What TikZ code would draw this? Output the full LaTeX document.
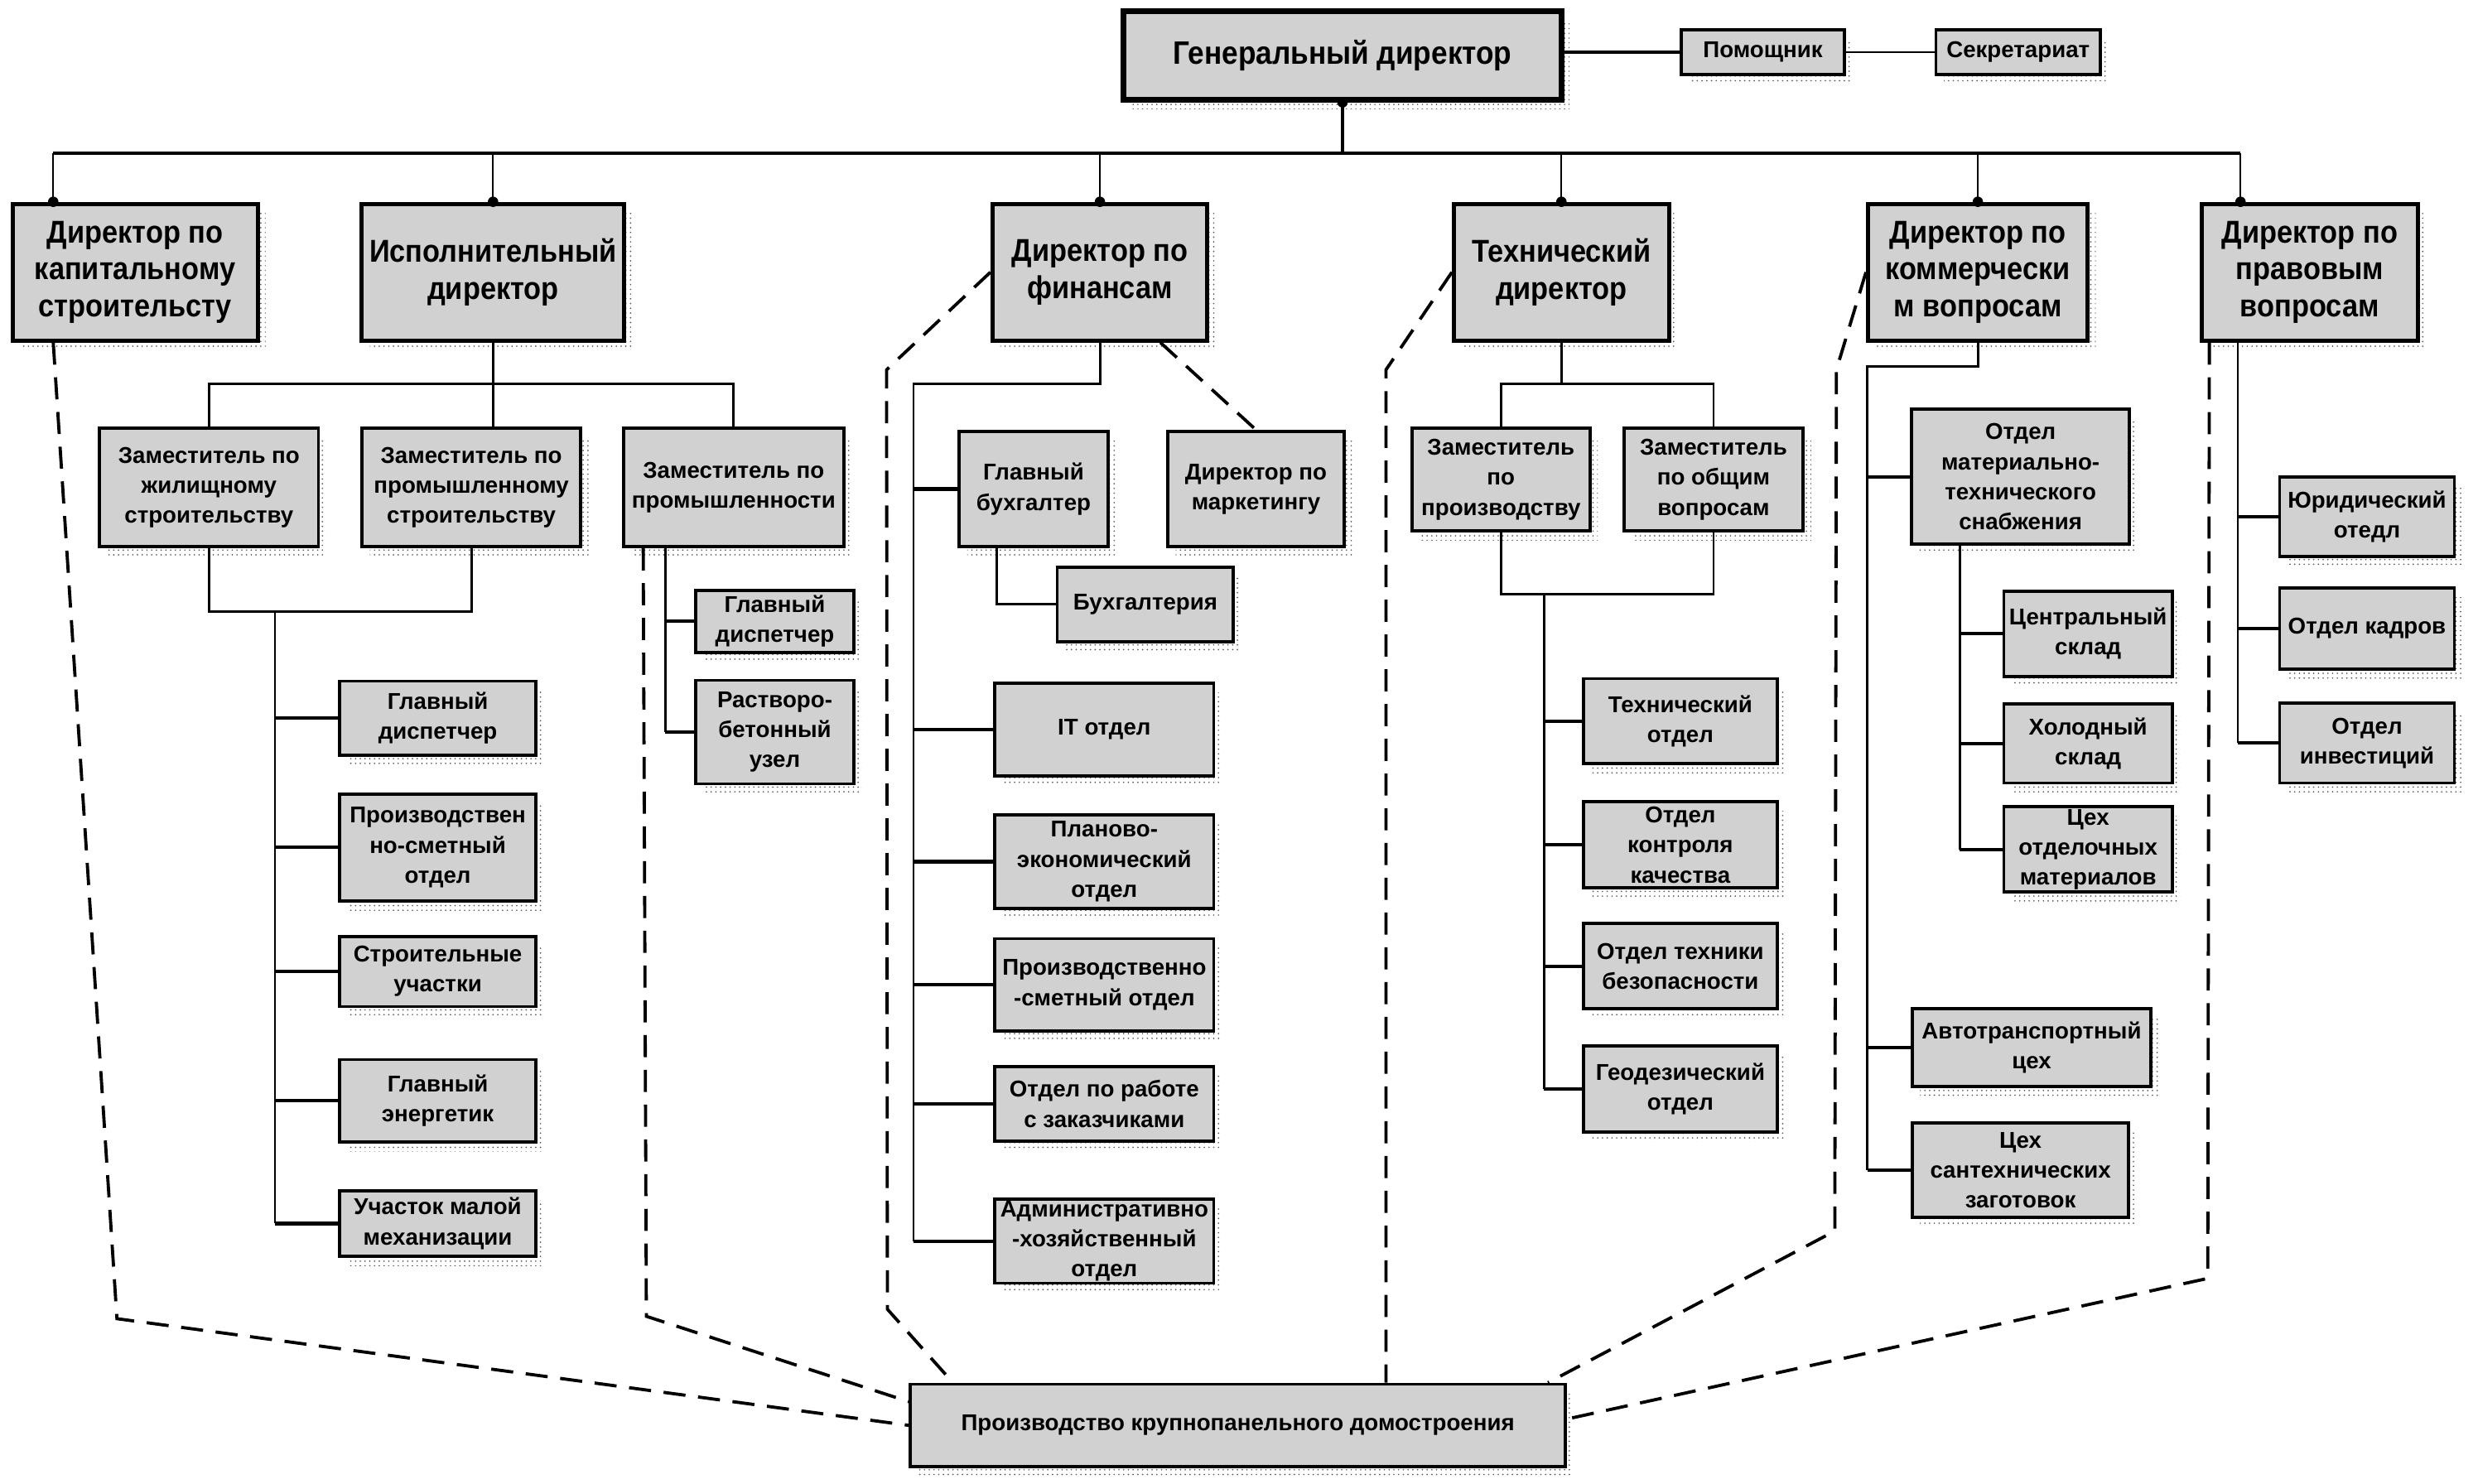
\documentclass[tikz,border=0pt]{standalone}
\usepackage{fontspec}
\setmainfont{Liberation Sans}
\newfontfamily\narrowf[FakeStretch=0.9]{Liberation Sans}
\usetikzlibrary{shadows,patterns,calc}
\tikzset{
  base/.style={draw=black, fill=black!18, align=center, inner sep=1pt, text=black,
    general shadow={shadow xshift=5pt, shadow yshift=-6pt, pattern=dots, pattern color=black!65}},
  gdbox/.style={base, line width=3.6pt, font=\narrowf\bfseries\fontsize{20.5}{24}\selectfont},
  dirbox/.style={base, line width=2.6pt, font=\narrowf\bfseries\fontsize{20}{23.5}\selectfont},
  smallbox/.style={base, line width=2pt, font=\bfseries\fontsize{14.5}{19}\selectfont},
  conn/.style={line width=1.5pt},
  stub/.style={line width=2.2pt},
  busline/.style={line width=2pt},
  dropline/.style={line width=1pt},
  dashline/.style={line width=2pt, dash pattern=on 14pt off 8pt},
}
\newcommand\bx[7]{\node[#1, minimum width={#5-#3}, minimum height={#6-#4}] (#2) at ({(#3+#5)/2},{(#4+#6)/2}) {#7};}
\begin{document}
\begin{tikzpicture}[x=1pt,y=-1pt]
\useasboundingbox[fill=white] (0,0) rectangle (1568,939.1);

% ---- boxes
\bx{gdbox}{gd}{711}{7}{988}{63}{Генеральный директор}
\bx{smallbox}{pom}{1064}{19}{1167}{47}{Помощник}
\bx{smallbox}{sek}{1225}{19}{1329}{47}{Секретариат}

\bx{dirbox}{kap}{8}{129}{163}{215.5}{Директор по\\капитальному\\строительсту}
\bx{dirbox}{isp}{229}{129}{395}{215.5}{Исполнительный\\директор}
\bx{dirbox}{fin}{628}{129}{764}{215.5}{Директор по\\финансам}
\bx{dirbox}{tech}{920}{129}{1056}{215.5}{Технический\\директор}
\bx{dirbox}{kom}{1182}{129}{1321}{215.5}{Директор по\\коммерчески\\м вопросам}
\bx{dirbox}{prav}{1393}{129}{1530}{215.5}{Директор по\\правовым\\вопросам}

\bx{smallbox}{zj}{63}{271}{201.5}{346}{Заместитель по\\жилищному\\строительству}
\bx{smallbox}{zp}{229}{271}{367.5}{346}{Заместитель по\\промышленному\\строительству}
\bx{smallbox}{zpr}{394.5}{271}{534}{346}{Заместитель по\\промышленности}

\bx{smallbox}{gdi}{215}{431}{339}{478}{Главный\\диспетчер}
\bx{smallbox}{pso}{215}{502.5}{339}{570}{Производствен\\но-сметный\\отдел}
\bx{smallbox}{su}{215}{592.5}{339}{637}{Строительные\\участки}
\bx{smallbox}{ge}{215}{670.5}{339}{722.5}{Главный\\энергетик}
\bx{smallbox}{umm}{215}{753.5}{339}{795}{Участок малой\\механизации}

\bx{smallbox}{gdii}{440}{373.5}{540.5}{413}{Главный\\диспетчер}
\bx{smallbox}{rbu}{440}{430.5}{540.5}{496}{Растворо-\\бетонный\\узел}

\bx{smallbox}{gb}{607}{273}{701}{346}{Главный\\бухгалтер}
\bx{smallbox}{dm}{739}{273}{850.5}{346}{Директор по\\маркетингу}
\bx{smallbox}{buh}{669}{359}{780.5}{406}{Бухгалтерия}
\bx{smallbox}{it}{629.5}{432.5}{768}{491}{IT отдел}
\bx{smallbox}{pe}{629.5}{515.5}{768}{575}{Планово-\\экономический\\отдел}
\bx{smallbox}{ps}{629.5}{594}{768}{652.5}{Производственно\\-сметный отдел}
\bx{smallbox}{orz}{629.5}{675}{768}{722}{Отдел по работе\\с заказчиками}
\bx{smallbox}{ahx}{629.5}{759}{768}{812}{Административно\\-хозяйственный\\отдел}

\bx{smallbox}{zpp}{893.5}{271}{1006}{336}{Заместитель\\по\\производству}
\bx{smallbox}{zov}{1027.5}{271}{1141}{336}{Заместитель\\по общим\\вопросам}
\bx{smallbox}{tot}{1002}{429.5}{1124.5}{483}{Технический\\отдел}
\bx{smallbox}{okk}{1002}{507.5}{1124.5}{562}{Отдел\\контроля\\качества}
\bx{smallbox}{otb}{1002}{584.5}{1124.5}{638.5}{Отдел техники\\безопасности}
\bx{smallbox}{geo}{1002}{662}{1124.5}{716.5}{Геодезический\\отдел}

\bx{smallbox}{omts}{1209.5}{259}{1347.5}{344.5}{Отдел\\материально-\\технического\\снабжения}
\bx{smallbox}{cs}{1268}{374}{1374.5}{428}{Центральный\\склад}
\bx{smallbox}{hs}{1268}{445.5}{1374.5}{495.5}{Холодный\\склад}
\bx{smallbox}{com}{1268}{510.5}{1374.5}{564.5}{Цех\\отделочных\\материалов}
\bx{smallbox}{atc}{1210}{638.5}{1361}{687.5}{Автотранспортный\\цех}
\bx{smallbox}{csz}{1210}{710.5}{1347}{770.5}{Цех\\сантехнических\\заготовок}

\bx{smallbox}{yur}{1442.5}{302}{1553}{352}{Юридический\\отедл}
\bx{smallbox}{okd}{1442.5}{372}{1553}{423.5}{Отдел кадров}
\bx{smallbox}{oi}{1442.5}{445}{1553}{495.5}{Отдел\\инвестиций}

\bx{smallbox}{prod}{576}{876}{990.5}{928}{Производство крупнопанельного домостроения}

% ---- top level connectors
\coordinate (busc) at (0,97);
\coordinate (kapT) at ($(kap.north west)+(27,0)$);
\coordinate (pravT) at ($(prav.north west)+(26,0)$);
\draw[busline] (gd.south) -- (gd.south |- busc);
\draw[busline] (kapT |- busc) -- (pravT |- busc);
\foreach \t in {kapT,isp.north,fin.north,tech.north,kom.north,pravT}
  \draw[dropline] (\t |- busc) -- (\t);
\foreach \t in {kapT,isp.north,fin.north,tech.north,kom.north,pravT,gd.south}
  \fill (\t) circle[radius=3.3pt];
\draw[stub] (pom.west -| gd.east) -- (pom.west);
\draw[line width=0.8pt] (pom.east) -- (sek.west);

% ---- executive director subtree
\coordinate (b2) at (0,243);
\draw[conn] (isp.south) -- (isp.south |- zp.north);
\draw[conn] (zj.north) -- (zj.north |- b2) -- (zpr.north |- b2) -- (zpr.north);
\coordinate (b3) at (0,387);
\draw[conn] (zj.south) -- (zj.south |- b3) -- (zp.south |- b3) -- (zp.south);
\coordinate (v1) at (174,387);
\draw[conn] (v1) -- (v1 |- umm.west);
\foreach \t in {gdi,pso,su,ge,umm} \draw[stub] (v1 |- \t.west) -- (\t.west);
\coordinate (v2) at (421,0);
\draw[conn] (v2 |- zpr.south) -- (v2 |- rbu.west);
\foreach \t in {gdii,rbu} \draw[stub] (v2 |- \t.west) -- (\t.west);

% ---- finance subtree
\coordinate (v3) at (578,243);
\draw[conn] (fin.south) -- (fin.south |- v3) -- (v3) -- (v3 |- ahx.west);
\foreach \t in {gb,it,pe,ps,orz,ahx} \draw[stub] (v3 |- \t.west) -- (\t.west);
\coordinate (v4) at (630.5,0);
\draw[conn] (v4 |- gb.south) |- (buh.west);

% ---- technical subtree
\draw[conn] (tech.south) -- (tech.south |- b2);
\draw[conn] (zpp.north) -- (zpp.north |- b2) -- (zov.north |- b2) -- (zov.north);
\coordinate (b4) at (0,376);
\draw[conn] (zpp.south) -- (zpp.south |- b4) -- (zov.south |- b4) -- (zov.south);
\coordinate (v5) at (977,376);
\draw[conn] (v5) -- (v5 |- geo.west);
\foreach \t in {tot,okk,otb,geo} \draw[stub] (v5 |- \t.west) -- (\t.west);

% ---- commercial subtree
\coordinate (v6) at (1181.5,232);
\draw[conn] (kom.south) -- (kom.south |- v6) -- (v6) -- (v6 |- csz.west);
\foreach \t in {omts,atc,csz} \draw[stub] (v6 |- \t.west) -- (\t.west);
\coordinate (v7) at (1240,0);
\draw[conn] (v7 |- omts.south) -- (v7 |- com.west);
\foreach \t in {cs,hs,com} \draw[stub] (v7 |- \t.west) -- (\t.west);

% ---- legal subtree
\coordinate (v8) at (1416,0);
\draw[conn] (v8 |- prav.south) -- (v8 |- oi.west);
\foreach \t in {yur,okd,oi} \draw[stub] (v8 |- \t.west) -- (\t.west);

% ---- dashed links to production
\coordinate (k1) at (74,834.5);
\draw[dashline] (kapT |- kap.south) -- (k1) -- (prod.west);
\coordinate (z0) at (407,0);
\coordinate (z1) at (409,833);
\draw[dashline] (z0 |- zpr.south) -- (z1) -- ($(prod.north west)+(0,12)$);
\coordinate (f1) at (561,234);
\coordinate (f2) at (561.5,828.5);
\draw[dashline] (fin.west) -- (f1) -- (f2) -- ($(prod.north west)+(28,0)$);
\draw[dashline] ($(fin.south east)+(-31,0)$) -- (dm.north);
\coordinate (t1) at (877,234);
\draw[dashline] (tech.west) -- (t1) -- (t1 |- prod.north);
\coordinate (m1) at (1162,234);
\coordinate (m2) at (1161,779);
\draw[dashline] (kom.west) -- (m1) -- (m2) -- ($(prod.north east)+(-12,0)$);
\coordinate (p0) at (1398,0);
\coordinate (p1) at (1397,809);
\draw[dashline] (p0 |- prav.south) -- (p1) -- ($(prod.east)+(0,-4)$);
\end{tikzpicture}
\end{document}
